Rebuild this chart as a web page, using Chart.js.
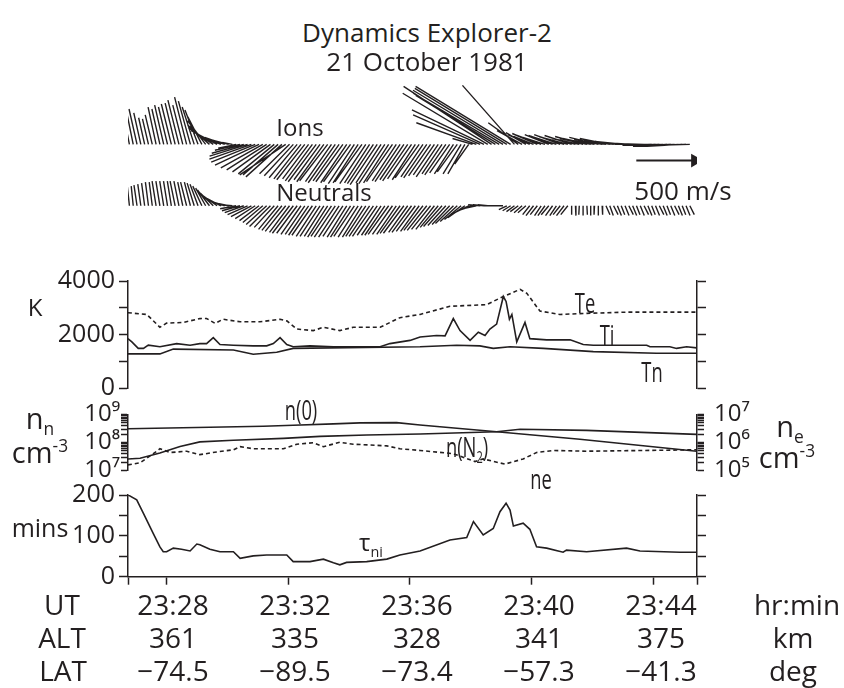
<!DOCTYPE html>
<html>
<head>
<meta charset="utf-8">
<script src="https://cdn.jsdelivr.net/npm/chart.js@4.4.0/dist/chart.umd.min.js"></script>
<style>
  body { margin: 0; background: #fff; }
  #fig { position: relative; width: 844px; height: 688px; overflow: hidden; font-family: 'Open Sans', sans-serif; color: #231f20; }
  canvas { position: absolute; left: 0; }
  .t { position: absolute; white-space: nowrap; line-height: 1; transform: translate(-50%, -50%); }
  .c { transform: translate(-50%, -50%) scaleX(0.68); }
  sub, sup { font-size: 0.6em; line-height: 0; }
</style>
</head>
<body>
<div id="fig">
  <canvas id="vec" width="844" height="190" style="top:70px"></canvas>
  <canvas id="temp" width="844" height="145" style="top:262px"></canvas>
  <canvas id="dens" width="844" height="105" style="top:390px"></canvas>
  <canvas id="tau" width="844" height="212" style="top:476px"></canvas>

  <div class="t" style="left:427px;top:32px;font-size:26px">Dynamics Explorer-2</div>
  <div class="t" style="left:427px;top:61px;font-size:26px">21 October 1981</div>
  <div class="t" style="left:300px;top:127px;font-size:24px">Ions</div>
  <div class="t" style="left:324px;top:192px;font-size:24px">Neutrals</div>
  <div class="t" style="left:683px;top:190px;font-size:26px">500 m/s</div>

  <div class="t" style="left:35px;top:307px;font-size:24px">K</div>
  <div class="t" style="left:40px;top:417px;font-size:29px">n<sub>n</sub></div>
  <div class="t" style="left:40px;top:451px;font-size:29px">cm<sup>-3</sup></div>
  <div class="t" style="left:790px;top:425px;font-size:29px">n<sub>e</sub></div>
  <div class="t" style="left:787px;top:456px;font-size:29px">cm<sup>-3</sup></div>
  <div class="t" style="left:40px;top:527px;font-size:25px">mins</div>

  <div class="t c" style="left:585px;top:302px;font-size:27px">Te</div>
  <div class="t c" style="left:607px;top:334px;font-size:27px">Ti</div>
  <div class="t c" style="left:652px;top:371px;font-size:27px">Tn</div>
  <div class="t c" style="left:301px;top:409px;font-size:27px">n(0)</div>
  <div class="t c" style="left:467px;top:446px;font-size:27px">n(N<sub>2</sub>)</div>
  <div class="t c" style="left:541px;top:478px;font-size:27px">ne</div>
  <div class="t" style="left:371px;top:542px;font-size:24px">&tau;<sub>ni</sub></div>

  <div class="t" style="left:62px;top:604px;font-size:28px">UT</div>
  <div class="t" style="left:62px;top:637px;font-size:28px">ALT</div>
  <div class="t" style="left:63px;top:670px;font-size:28px">LAT</div>
  <div class="t" style="left:797px;top:604px;font-size:28px">hr:min</div>
  <div class="t" style="left:793px;top:637px;font-size:28px">km</div>
  <div class="t" style="left:793px;top:670px;font-size:28px">deg</div>
</div>

<script>
const INK = '#231f20';
const X_MIN = 26.754, X_MAX = 45.41;   // minutes after 23:00 UT
const LEFT_W = 128, RIGHT_W = 147;

// time axis
const utTicks = [28, 32, 36, 40, 44];
const utLabels = ['23:28', '23:32', '23:36', '23:40', '23:44'];
const altLabels = ['361', '335', '328', '341', '375'];
const latLabels = ['\u221274.5', '\u221289.5', '\u221273.4', '\u221257.3', '\u221241.3'];

// temperatures (K)
const teTime = [26.75, 27.37, 27.80, 28.02, 28.56, 29.11, 29.33, 29.61, 29.87, 30.43, 31.08, 31.74, 31.96, 32.29, 32.83, 33.16,
  33.70, 34.14, 35.02, 35.67, 36.33, 37.31, 38.51, 38.95, 39.61, 39.83, 40.26, 40.91, 41.79, 43.10, 45.40];
const teVals = [2815, 2750, 2270, 2425, 2450, 2595, 2600, 2415, 2570, 2475, 2475, 2570, 2510, 2205, 2145, 2270,
  2145, 2270, 2270, 2630, 2750, 3055, 3115, 3360, 3690, 3540, 2875, 2750, 2790, 2835, 2835];

const tiTime = [26.75, 26.88, 27.09, 27.26, 27.42, 27.80, 28.35, 28.79, 29.11, 29.33, 29.55, 29.77, 30.21, 30.86, 31.30, 31.52,
  31.74, 31.96, 32.17, 32.72, 33.49, 34.58, 35.02, 35.34, 36.00, 36.33, 36.87, 37.15, 37.42, 37.64, 37.97, 38.24,
  38.46, 38.62, 38.84, 39.06, 39.15, 39.26, 39.34, 39.50, 39.77, 39.93, 40.48, 41.25, 41.68, 42.01, 43.76, 43.87,
  44.52, 44.74, 45.07, 45.40];
const tiVals = [1845, 1725, 1480, 1480, 1600, 1540, 1660, 1600, 1660, 1660, 1880, 1625, 1600, 1575, 1575, 1660,
  1880, 1625, 1540, 1575, 1540, 1540, 1540, 1660, 1780, 1905, 1965, 1950, 2595, 2145, 1780, 2085,
  1965, 2205, 2390, 3420, 3235, 2570, 2750, 1725, 2450, 1845, 1800, 1800, 1625, 1600, 1600, 1540,
  1540, 1480, 1540, 1500];

const tnTime = [26.75, 27.80, 28.24, 30.21, 30.86, 31.63, 32.17, 36.33, 37.53, 38.29, 38.73, 39.28, 40.37, 42.01, 44.08, 45.40];
const tnVals = [1275, 1275, 1455, 1420, 1260, 1335, 1480, 1540, 1600, 1575, 1480, 1540, 1480, 1360, 1300, 1300];

// densities (cm^-3)
const nOTime = [26.75, 29.44, 31.19, 32.17, 33.49, 34.36, 35.56, 36.33, 38.84, 41.57, 45.40];
const nOVals = [3.1e8, 3.5e8, 3.8e8, 4.1e8, 4.6e8, 5.0e8, 5.1e8, 4.2e8, 2.4e8, 1.3e8, 4.9e7];

const nN2Time = [26.75, 27.15, 27.80, 28.46, 29.11, 30.21, 31.85, 33.05, 34.58, 36.33, 38.84, 39.61, 41.79, 45.40];
const nN2Vals = [2.6e7, 2.75e7, 4.2e7, 7.2e7, 1.05e8, 1.2e8, 1.4e8, 1.65e8, 1.85e8, 2.0e8, 2.4e8, 2.95e8, 2.7e8, 1.95e8];

const neTime = [26.75, 27.15, 27.70, 27.80, 28.13, 28.68, 29.11, 29.66, 30.21, 30.43, 30.86, 31.85, 32.29, 32.83, 33.16,
  33.70, 34.14, 35.24, 35.67, 36.33, 37.42, 38.13, 38.40, 39.11, 39.71, 40.15, 40.70, 41.79, 45.40];
const neVals = [1.6e5, 1.9e5, 4.9e5, 6.0e5, 4.4e5, 4.9e5, 3.7e5, 4.6e5, 5.5e5, 7.1e5, 6.0e5, 6.0e5, 8.7e5, 9.8e5, 7.1e5,
  1.02e6, 8.7e5, 7.6e5, 6.0e5, 5.2e5, 4.0e5, 2.1e5, 2.6e5, 1.7e5, 2.6e5, 4.4e5, 5.2e5, 4.9e5, 5.5e5];

// ion-neutral time constant (mins)
const tauTime = [26.76, 27.04, 27.26, 27.58, 27.80, 27.91, 28.02, 28.24, 28.51, 28.79, 29.01, 29.11, 29.44, 29.77, 30.21, 30.43,
  30.86, 31.30, 31.96, 32.17, 32.72, 33.16, 33.49, 33.70, 33.92, 34.58, 35.24, 35.67, 36.33, 37.31, 37.86, 38.08,
  38.40, 38.73, 38.95, 39.15, 39.28, 39.39, 39.71, 39.93, 40.15, 40.48, 41.02, 41.13, 41.79, 43.10, 43.54, 44.85, 45.40];
const tauVals = [200, 188, 155, 106, 73, 61, 61, 70, 67, 63, 80, 78, 67, 61, 61, 45,
  51, 53, 53, 37, 37, 43, 34, 29, 35, 37, 43, 53, 63, 90, 96, 135,
  102, 118, 159, 180, 163, 124, 131, 116, 73, 70, 60, 65, 61, 70, 63, 60, 60];

// velocity vectors (m/s, east and north), one every 7.5 s from 23:26:48
const STICK_START = 26.80, STICK_STEP = 0.125;
const ionEast = [-77, -68, -68, -60, -51, -51, -60, -68, -68, -77, -77, -85, -85, -94, -85, -102, -102, -102, -111, -119,
  -153, -187, -213, -221, -204, -170, -128, -85,
  -153, -213, -272, -323, -357, -374, -374, -357, -340, -323, -306, -298, -306, -391, -255, -247, -238, -230, -238, -221, -230, -238,
  -221, -230, -238, -221, -230, -221, -230, -221, -230, -221, -213, -230, -221, -213, -221, -230, -213, -221, -213, -221,
  -204, -213, -204, -213, -204, -196, -204, -187, -196, -187, -179, -187, -170, -179, -170, -162, -170, -153, -145, -119,
  -170, -510, -570, -612, -723, -748, -680, -731, -765, -782, -808, -442, -255, -213,
  -170, -187, -170, -213, -204, -187, -204, -204, -213, -221, -213, -221, -230, -221, -230, -238, -230, -238, -238, -247,
  -238, -247, -255, -247, -255, -255, -255,
  -264, -264, -272, -272, -272, -281, -281, -281, -281, -289, -289, -289, -289, -298, -298, -298, -298];
const ionNorth = [391, 340, 306, 272, 230, 221, 255, 323, 306, 340, 323, 349, 357, 383, 340, 408, 374, 323, 298, 238,
  204, 170, 145, 119, 85, 60, 34, 17,
  -34, -51, -77, -102, -128, -153, -179, -204, -221, -238, -255, -264, -281, -264, -255, -272, -289, -298, -306, -298, -315, -323,
  -306, -323, -315, -323, -332, -315, -323, -332, -323, -340, -332, -323, -340, -332, -340, -349, -332, -340, -332, -323,
  -315, -323, -306, -315, -298, -306, -289, -281, -289, -272, -264, -281, -255, -264, -247, -255, -238, -255, -255, -170,
  51, 187, 255, 298, 442, 502, 425, 442, 468, 485, 502, 510, 187, 119,
  102, 85, 68, 94, 77, 60, 85, 77, 68, 85, 68, 60, 77, 60, 51, 68, 51, 51, 43, 60,
  43, 34, 51, 34, 34, 26, 26,
  17, 17, 9, 9, 9, 0, 0, -9, -9, -9, -17, -9, -9, -17, -17, -9, -9];
const neuEast = [-17, -17, -26, -26, -26, -26, -26, -34, -34, -34, -34, -34, -43, -43, -43, -51, -51, -60, -68, -77,
  -85, -102, -111, -119, -128, -128, -119, -102,
  -136, -153, -162, -170, -174, -170, -166, -170, -174, -178, -170, -166, -170, -174, -170, -178, -174, -170, -166, -170, -174, -170,
  -170, -166, -170, -174, -178, -174, -170, -166, -170, -174, -170, -166, -170, -174, -178, -170, -166, -170, -174, -170, -166, -170, -174,
  -162, -166, -162, -158, -162, -166, -162, -158, -153, -157, -153, -149, -153, -145, -141, -145,
  -136, -128, -119, -102, -94, -85, -77, -68, -60, -51, -68, -68, -68, -68, -68, -68,
  -60, -64, -60, -56, -60, -64, -60, -56, -60, -64, -60,
  0, 4, -4, 0, 4, 0, -4, 0, 4,
  34, 30, 38, 34, 30, 34, 38, 34, 30, 34, 38, 34, 30, 34, 38, 34, 30, 34, 38, 34, 30, 34, 38];
const neuNorth = [162, 170, 179, 187, 196, 204, 204, 213, 213, 213, 213, 213, 213, 213, 204, 204, 204, 196, 187, 170,
  153, 136, 111, 85, 68, 43, 26, 9,
  -26, -43, -60, -77, -94, -111, -128, -145, -162, -179, -187, -204, -213, -221, -230, -238, -238, -247, -247, -255, -255, -264,
  -264, -264, -272, -264, -272, -272, -264, -272, -272, -264, -272, -272, -264, -264, -264, -255, -255, -255, -247, -247, -247, -238, -238,
  -230, -230, -221, -221, -213, -213, -204, -204, -187, -179, -170, -162, -153, -136, -119, -102,
  -68, -43, -26, 9, 9, 9, 0, 0, 0, 0, -34, -43, -51, -51, -60, -60,
  -77, -85, -77, -85, -85, -77, -85, -85, -77, -85, -77,
  -77, -85, -77, -85, -77, -85, -77, -85, -77,
  -77, -85, -77, -85, -77, -85, -77, -85, -77, -85, -77, -85, -77, -85, -77, -85, -77, -85, -77, -85, -77, -85, -77];
const ION_BASE = 0, NEU_BASE = -531;          // m/s offsets of the two rows
const ARROW_T = 43.42, ARROW_Y = -140, ARROW_SPEED = 500;

// stick panel geometry: 8.5 m/s per pixel both ways
const VEC_W = 844 - LEFT_W - RIGHT_W, MS_PER_PX = 8.5;
const MIN_PER_MS = (X_MAX - X_MIN) / VEC_W / MS_PER_PX;

Chart.defaults.font.family = "'Open Sans', sans-serif";
Chart.defaults.color = INK;

const pts = (xs, ys) => xs.map((x, i) => ({x: x, y: ys[i]}));

function sticks(east, north, base) {
  const out = [];
  east.forEach((u, i) => {
    const t = STICK_START + i * STICK_STEP;
    out.push({x: t, y: base});
    out.push({x: t + u * MIN_PER_MS, y: base + north[i]});
    out.push({x: t, y: null});
  });
  return out;
}

function line(data, dash, axis) {
  return {
    data: data, showLine: true, borderColor: INK, borderWidth: 1.6,
    borderDash: dash || [], pointRadius: 0, tension: 0, yAxisID: axis || 'y'
  };
}

function yAxis(pos, o) {
  return {
    type: o.type || 'linear', position: pos, min: o.min, max: o.max,
    border: {display: true, color: INK, width: 1.5},
    grid: {drawOnChartArea: false, drawTicks: true, tickLength: o.tick || 9, tickColor: INK, tickWidth: 1.5},
    ticks: {autoSkip: false, stepSize: o.step, color: INK, font: {size: o.size || 25}, padding: o.pad || 4,
      callback: o.label || (() => '')},
    afterBuildTicks: o.build,
    afterFit: s => { s.width = pos === 'left' ? LEFT_W : RIGHT_W; }
  };
}

function opts(padding, scales) {
  return {
    responsive: false, animation: false, events: [],
    layout: {padding: padding},
    plugins: {legend: {display: false}, tooltip: {enabled: false}},
    scales: scales
  };
}

const xHidden = {type: 'linear', min: X_MIN, max: X_MAX, display: false};

// log decade ticks with minor marks
function logTicks(s) {
  const out = [];
  for (let e = Math.round(Math.log10(s.min)); e < Math.round(Math.log10(s.max)); e++) {
    for (let m = 1; m < 10; m++) out.push({value: m * Math.pow(10, e)});
  }
  out.push({value: s.max});
  s.ticks = out;
}
const SUP = {'5': '\u2075', '6': '\u2076', '7': '\u2077', '8': '\u2078', '9': '\u2079'};
function decadeLabel(v) {
  const e = Math.log10(v);
  return Math.abs(e - Math.round(e)) < 1e-6 ? '10' + SUP[String(Math.round(e))] : '';
}

// velocity sticks
new Chart(document.getElementById('vec'), {
  type: 'scatter',
  data: {datasets: [
    Object.assign(line(sticks(ionEast, ionNorth, ION_BASE)), {borderWidth: 1.4}),
    Object.assign(line(sticks(neuEast, neuNorth, NEU_BASE)), {borderWidth: 1.4}),
    Object.assign(line([{x: ARROW_T, y: ARROW_Y}, {x: ARROW_T + ARROW_SPEED * MIN_PER_MS, y: ARROW_Y}]), {
      borderWidth: 2, pointRadius: [0, 6], pointStyle: 'triangle', rotation: 90,
      pointBackgroundColor: INK, pointBorderColor: INK
    })
  ]},
  options: opts({left: LEFT_W, right: RIGHT_W, top: 5, bottom: 10}, {
    x: xHidden,
    y: {type: 'linear', min: -913.5, max: 574, display: false}
  })
});

// temperatures
new Chart(document.getElementById('temp'), {
  type: 'scatter',
  data: {datasets: [
    line(pts(teTime, teVals), [4, 3]),
    line(pts(tiTime, tiVals)),
    line(pts(tnTime, tnVals))
  ]},
  options: opts({top: 18.7, bottom: 16.3}, {
    x: xHidden,
    y: yAxis('left', {min: 0, max: 4000, step: 1000, label: v => (v % 2000 === 0 ? String(v) : '')}),
    y2: yAxis('right', {min: 0, max: 4000, step: 1000})
  })
});

// densities
new Chart(document.getElementById('dens'), {
  type: 'scatter',
  data: {datasets: [
    line(pts(nOTime, nOVals)),
    line(pts(nN2Time, nN2Vals)),
    line(pts(neTime, neVals), [4, 3], 'y2')
  ]},
  options: opts({top: 17.7, bottom: 15}, {
    x: xHidden,
    y: yAxis('left', {type: 'logarithmic', min: 1e7, max: 1e9, tick: 7, pad: 1, size: 24, build: logTicks, label: decadeLabel}),
    y2: yAxis('right', {type: 'logarithmic', min: 1e5, max: 1e7, tick: 7, pad: 10, size: 24, build: logTicks, label: decadeLabel})
  })
});

// tau and the time axis (end ticks at both axis corners)
new Chart(document.getElementById('tau'), {
  type: 'scatter',
  data: {datasets: [line(pts(tauTime, tauVals))]},
  options: opts({top: 19, bottom: 0}, {
    x: {
      type: 'linear', min: X_MIN, max: X_MAX, position: 'bottom',
      border: {display: true, color: INK, width: 1.5},
      grid: {drawOnChartArea: false, drawTicks: true, tickLength: 8, tickColor: INK, tickWidth: 1.5},
      afterBuildTicks: s => { s.ticks = [X_MIN].concat(utTicks, [X_MAX]).map(v => ({value: v})); },
      ticks: {
        autoSkip: false, maxRotation: 0, minRotation: 0, color: INK, padding: 6, labelOffset: 7,
        font: {size: 28, lineHeight: 1.18},
        callback: v => {
          const i = utTicks.indexOf(v);
          return i < 0 ? '' : [utLabels[i], altLabels[i], latLabels[i]];
        }
      },
      afterFit: s => { s.height = 111.3; }
    },
    y: yAxis('left', {min: 0, max: 200, step: 50, label: v => (v % 100 === 0 ? String(v) : '')}),
    y2: yAxis('right', {min: 0, max: 200, step: 50})
  })
});
</script>
</body>
</html>
